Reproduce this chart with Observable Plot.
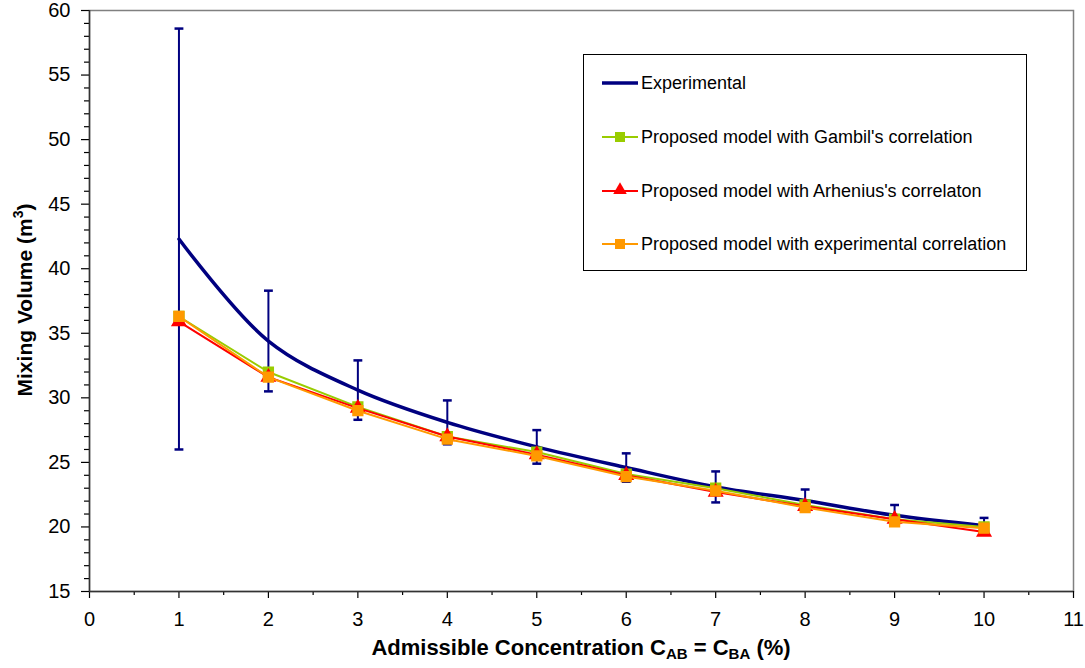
<!DOCTYPE html>
<html>
<head>
<meta charset="utf-8">
<script src="https://cdn.jsdelivr.net/npm/d3@7"></script>
<script src="https://cdn.jsdelivr.net/npm/@observablehq/plot@0.6"></script>
<style>
  html, body { margin: 0; padding: 0; background: #fff; }
  #wrap { position: relative; width: 1085px; height: 668px; font-family: "Liberation Sans", Arial, sans-serif; }
  #legend { position: absolute; left: 583px; top: 54px; width: 444px; height: 217px; border: 1px solid #000; background: #fff; box-sizing: border-box; }
  .item { position: absolute; left: 18px; height: 20px; display: flex; align-items: center; font-size: 18px; color: #000; white-space: nowrap; }
  .item svg { margin-right: 3px; }
</style>
</head>
<body>
<div id="wrap"></div>
<script>
// ---- data ----
const concentration = [1, 2, 3, 4, 5, 6, 7, 8, 9, 10];
const experimental = [42.3, 34.4, 30.6, 28.1, 26.2, 24.6, 23.1, 22.05, 20.9, 20.1];
const experimentalError = [16.3, 3.9, 2.3, 1.7, 1.3, 1.1, 1.2, 0.85, 0.8, 0.6];
const gambil = [36.3, 32.0, 29.3, 27.0, 25.8, 24.1, 23.0, 21.7, 20.6, 20.0];
const arrhenius = [35.9, 31.6, 29.2, 27.0, 25.6, 24.0, 22.7, 21.6, 20.6, 19.6];
const expCorrelation = [36.3, 31.6, 29.0, 26.8, 25.5, 23.9, 22.8, 21.5, 20.4, 19.9];
const xTicks = [0, 1, 2, 3, 4, 5, 6, 7, 8, 9, 10, 11];
const yTicks = [15, 20, 25, 30, 35, 40, 45, 50, 55, 60];
const seriesNames = ["Experimental", "Proposed model with Gambil's correlation", "Proposed model with Arhenius's correlaton", "Proposed model with experimental correlation"];
const seriesColors = ["#000080", "#99cc00", "#ff0000", "#ff9900"];

const expRows = concentration.map((x, i) => ({x, y: experimental[i], lo: experimental[i] - experimentalError[i], hi: experimental[i] + experimentalError[i]}));
const rows = (vals) => concentration.map((x, i) => ({x, y: vals[i]}));

const capSymbol = {
  draw(context, size) {
    const w = Math.sqrt(size);
    context.moveTo(-w / 2, 0);
    context.lineTo(w / 2, 0);
  }
};

const xMinor = d3.range(0.5, 11, 1);
const yMinor = d3.range(15, 61, 1).filter(v => v % 5 !== 0);

const chart = Plot.plot({
  width: 1085,
  height: 668,
  marginLeft: 89,
  marginRight: 12,
  marginTop: 10,
  marginBottom: 77,
  x: {domain: [0, 11], label: null},
  y: {domain: [15, 60], label: null},
  style: {fontFamily: "'Liberation Sans', Arial, sans-serif", fontSize: "20px", color: "#000", background: "#fff", overflow: "visible"},
  marks: [
    Plot.frame({stroke: "#808080", strokeWidth: 1.5}),
    Plot.axisX({ticks: xMinor, tickSize: 4, tickFormat: () => "", label: null, strokeWidth: 1.2}),
    Plot.axisX({ticks: xTicks, tickSize: 7, tickPadding: 13, fontSize: 20, tickFormat: d => String(d), label: null, strokeWidth: 1.2}),
    Plot.axisY({ticks: yMinor, tickSize: 5, tickFormat: () => "", label: null, strokeWidth: 1.2}),
    Plot.axisY({ticks: yTicks, tickSize: 8, tickPadding: 11, fontSize: 20, tickFormat: d => String(d), label: null, strokeWidth: 1.2}),
    Plot.ruleX([0], {stroke: "#333", strokeWidth: 1.5}),
    Plot.ruleY([15], {stroke: "#333", strokeWidth: 1.5}),
    // experimental with error bars
    Plot.ruleX(expRows, {x: "x", y1: "lo", y2: "hi", stroke: seriesColors[0], strokeWidth: 2}),
    Plot.dot(expRows, {x: "x", y: "lo", symbol: capSymbol, r: 5, stroke: seriesColors[0], strokeWidth: 2.5}),
    Plot.dot(expRows, {x: "x", y: "hi", symbol: capSymbol, r: 5, stroke: seriesColors[0], strokeWidth: 2.5}),
    Plot.line(expRows, {x: "x", y: "y", stroke: seriesColors[0], strokeWidth: 3.5, curve: "catmull-rom"}),
    // models
    Plot.line(rows(gambil), {x: "x", y: "y", stroke: seriesColors[1], strokeWidth: 2}),
    Plot.dot(rows(gambil), {x: "x", y: "y", symbol: "square", r: 5.5, fill: seriesColors[1], stroke: seriesColors[1]}),
    Plot.line(rows(arrhenius), {x: "x", y: "y", stroke: seriesColors[2], strokeWidth: 2}),
    Plot.dot(rows(arrhenius), {x: "x", y: "y", symbol: "triangle", r: 5, fill: seriesColors[2], stroke: seriesColors[2]}),
    Plot.line(rows(expCorrelation), {x: "x", y: "y", stroke: seriesColors[3], strokeWidth: 2}),
    Plot.dot(rows(expCorrelation), {x: "x", y: "y", symbol: "square", r: 5.5, fill: seriesColors[3], stroke: seriesColors[3]})
  ]
});

const svg = d3.select(chart);
// x axis title with subscripts
const xt = svg.append("text")
  .attr("x", 581).attr("y", 655)
  .attr("text-anchor", "middle")
  .attr("font-weight", "bold").attr("font-size", 22).attr("fill", "#000");
xt.append("tspan").text("Admissible Concentration C");
xt.append("tspan").attr("font-size", 15).attr("dy", 4).text("AB");
xt.append("tspan").attr("dy", -4).text(" = C");
xt.append("tspan").attr("font-size", 15).attr("dy", 4).text("BA");
xt.append("tspan").attr("dy", -4).text(" (%)");
// y axis title with superscript
const yt = svg.append("text")
  .attr("transform", "translate(32,300) rotate(-90)")
  .attr("text-anchor", "middle")
  .attr("font-weight", "bold").attr("font-size", 21).attr("fill", "#000");
yt.append("tspan").text("Mixing Volume (m");
yt.append("tspan").attr("font-size", 14).attr("dy", -9).text("3");
yt.append("tspan").attr("dy", 9).text(")");

const wrap = document.getElementById("wrap");
wrap.appendChild(chart);

// legend
const legend = document.createElement("div");
legend.id = "legend";
const tops = [18, 72, 126, 179];
const markers = [null, "square", "triangle", "square"];
seriesNames.forEach((name, i) => {
  const item = document.createElement("div");
  item.className = "item";
  item.style.top = tops[i] + "px";
  const s = d3.create("svg").attr("width", 36).attr("height", 20);
  s.append("line").attr("x1", 0).attr("x2", 36).attr("y1", 10).attr("y2", 10)
    .attr("stroke", seriesColors[i]).attr("stroke-width", i === 0 ? 3.5 : 2);
  if (markers[i] === "square") {
    s.append("rect").attr("x", 13).attr("y", 5).attr("width", 10).attr("height", 10).attr("fill", seriesColors[i]);
  } else if (markers[i] === "triangle") {
    s.append("path").attr("d", d3.symbol(d3.symbolTriangle, 80)()).attr("transform", "translate(18,9)").attr("fill", seriesColors[i]);
  }
  item.appendChild(s.node());
  const t = document.createElement("span");
  t.textContent = name;
  item.appendChild(t);
  legend.appendChild(item);
});
wrap.appendChild(legend);
</script>
</body>
</html>
